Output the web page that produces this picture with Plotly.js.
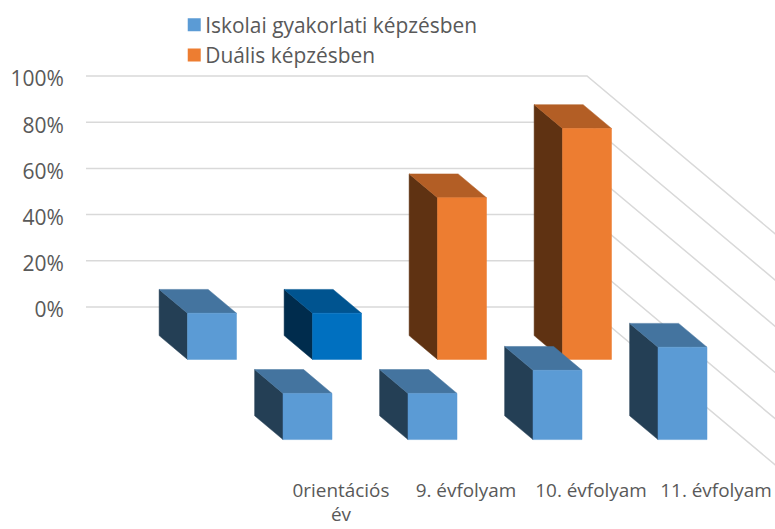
<!DOCTYPE html>
<html>
<head>
<meta charset="utf-8">
<script src="https://cdn.plot.ly/plotly-3.0.1.min.js"></script>
<style>html,body{margin:0;padding:0;background:#fff}</style>
</head>
<body>
<div id="chart" style="width:775px;height:529px"></div>
<script>
var categories = ["0rientációs<br>év", "9. évfolyam", "10. évfolyam", "11. évfolyam"];
var seriesNames = ["Iskolai gyakorlati képzésben", "Duális képzésben"];
var iskolai = [20, 20, 30, 40];
var dualis = [20, 20, 70, 100];
var yTicks = [0, 20, 40, 60, 80, 100];

var palette = {
  blue: {front: "#5B9BD5", top: "#44749F", side: "#243F55"},
  deep: {front: "#0070C0", top: "#005490", side: "#002C4D"},
  orange: {front: "#ED7D31", top: "#B35E25", side: "#5F3212"}
};
var iskolaiColors = ["blue", "blue", "blue", "blue"];
var dualisColors = ["blue", "deep", "orange", "orange"];

// Oblique projection: one row of depth moves left and up on the page.
var ROW_X = 0.764, ROW_Y = 34.7;
var BAR_LEFT = -0.464, BAR_WIDTH = 0.392, BAR_DEPTH = 0.297;
var FRONT_BASE = -57.4;
var WALL_X = 1.968, WALL_START = -2.04, WALL_ROWS = 2.1;

function pt(c, row, v) {
  return [c - row * ROW_X, FRONT_BASE + row * ROW_Y + v];
}
function poly(points, color) {
  var xs = points.map(function (p) { return p[0]; });
  var ys = points.map(function (p) { return p[1]; });
  xs.push(xs[0]); ys.push(ys[0]);
  return {x: xs, y: ys, type: "scatter", mode: "lines", fill: "toself", fillcolor: color,
          line: {width: 0.5, color: color}, showlegend: false, hoverinfo: "skip"};
}
function bar(catIndex, row, value, colors) {
  var l = catIndex + BAR_LEFT, r = l + BAR_WIDTH, d = row + BAR_DEPTH;
  return [
    poly([pt(l, row, 0), pt(l, d, 0), pt(l, d, value), pt(l, row, value)], colors.side),
    poly([pt(l, row, value), pt(l, d, value), pt(r, d, value), pt(r, row, value)], colors.top),
    poly([pt(l, row, 0), pt(r, row, 0), pt(r, row, value), pt(l, row, value)], colors.front)
  ];
}

var traces = [];
yTicks.forEach(function (v) {
  traces.push({
    x: [WALL_START, WALL_X, WALL_X + WALL_ROWS * ROW_X],
    y: [v, v, v - WALL_ROWS * ROW_Y],
    type: "scatter", mode: "lines", line: {color: "#D9D9D9", width: 1.5},
    showlegend: false, hoverinfo: "skip"
  });
});
dualis.forEach(function (v, i) { traces = traces.concat(bar(i, 1, v, palette[dualisColors[i]])); });
iskolai.forEach(function (v, i) { traces = traces.concat(bar(i, 0, v, palette[iskolaiColors[i]])); });

[palette.blue.front, palette.orange.front].forEach(function (color, i) {
  traces.push({
    x: [null], y: [null], type: "scatter", mode: "markers", name: seriesNames[i],
    marker: {symbol: "square", size: 13, color: color}, hoverinfo: "skip"
  });
});

var textColor = "#595959";
var fontFamily = "'Open Sans', sans-serif";
var layout = {
  width: 775, height: 529,
  margin: {l: 86, r: 0, t: 0, b: 52, pad: 0},
  paper_bgcolor: "#fff", plot_bgcolor: "#fff",
  font: {family: fontFamily, color: textColor, size: 18},
  showlegend: true,
  legend: {
    x: 0.115, y: 0.99, xanchor: "left", yanchor: "top",
    font: {size: 20.9, family: fontFamily, color: textColor},
    bgcolor: "rgba(0,0,0,0)", itemclick: false, itemdoubleclick: false
  },
  xaxis: {
    range: [-2.04, 3.472], tickmode: "array", tickvals: [0, 1, 2, 3], ticktext: categories,
    showgrid: false, zeroline: false, showline: false, fixedrange: true,
    ticks: "", tickfont: {size: 18.9, family: fontFamily, color: textColor}, tickangle: 0
  },
  yaxis: {
    range: [-73.6, 132.9], tickmode: "array", tickvals: yTicks,
    ticktext: yTicks.map(function (v) { return v + "%"; }),
    showgrid: false, zeroline: false, showline: false, fixedrange: true,
    ticks: "outside", ticklen: 17, tickcolor: "rgba(0,0,0,0)", ticklabelshift: 3,
    tickfont: {size: 21, family: fontFamily, color: textColor}
  }
};
Plotly.newPlot("chart", traces, layout, {displayModeBar: false, staticPlot: true}).then(function () {
  // Close the gap between legend swatch and label, as in the reference.
  document.querySelectorAll("#chart .legend .legendpoints").forEach(function (g) {
    g.setAttribute("transform", "translate(9,0)");
  });
});
</script>
</body>
</html>
